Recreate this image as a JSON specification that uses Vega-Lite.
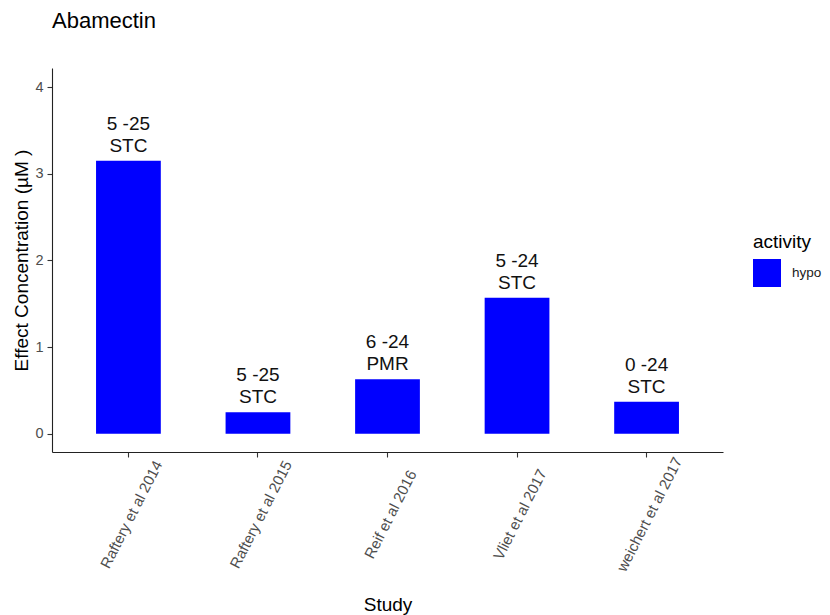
{
  "$schema": "https://vega.github.io/schema/vega-lite/v6.json",
  "width": 671,
  "height": 384,
  "autosize": "none",
  "padding": {"left": 52, "top": 68, "right": 107, "bottom": 163},
  "background": "white",
  "config": {
    "font": "Liberation Sans",
    "view": {"stroke": null},
    "axis": {"grid": false, "domainColor": "#222222", "domainWidth": 1.1, "tickColor": "#333333", "tickWidth": 1.1, "labelColor": "#4d4d4d", "labelFontSize": 14.5, "titleFontSize": 19, "titleFontWeight": "normal", "titleColor": "#000000", "tickSize": 5}
  },
  "title": {"text": "Abamectin", "anchor": "start", "fontSize": 22, "fontWeight": "normal", "color": "#000000", "offset": 18, "baseline": "alphabetic", "frame": "group"},
  "data": {
    "values": [
      {"study": "Raftery et al 2014", "conc": 3.15, "activity": "hypo", "label": "5 -25\nSTC"},
      {"study": "Raftery et al 2015", "conc": 0.25, "activity": "hypo", "label": "5 -25\nSTC"},
      {"study": "Reif et al 2016", "conc": 0.63, "activity": "hypo", "label": "6 -24\nPMR"},
      {"study": "Vliet et al 2017", "conc": 1.57, "activity": "hypo", "label": "5 -24\nSTC"},
      {"study": "weichert et al 2017", "conc": 0.37, "activity": "hypo", "label": "0 -24\nSTC"}
    ]
  },
  "encoding": {
    "x": {"field": "study", "type": "nominal", "sort": null,
      "scale": {"paddingInner": 0.5, "paddingOuter": 0.34},
      "axis": {"title": "Study", "labelAngle": -63, "labelFontSize": 15, "labelAlign": "center", "labelBaseline": "middle", "labelPadding": 57, "labelOffset": 3, "labelOverlap": false, "labelBound": false, "labelFlush": false, "titleY": 158, "titleBaseline": "alphabetic"}},
    "y": {"field": "conc", "type": "quantitative",
      "scale": {"domain": [-0.21, 4.22], "nice": false, "zero": false},
      "axis": {"title": "Effect Concentration (µM )", "values": [0, 1, 2, 3, 4], "labelPadding": 4, "titleX": -31, "titleY": 192, "titleBaseline": "middle", "titleAngle": -90}}
  },
  "layer": [
    {"mark": {"type": "bar"},
      "encoding": {
        "y2": {"datum": 0},
        "color": {"field": "activity", "type": "nominal", "scale": {"range": ["#0000ff"]},
          "legend": {"title": "activity", "orient": "none", "legendX": 701, "legendY": 165, "titleFontSize": 19, "titleFontWeight": "normal", "titleColor": "#000000", "labelFontSize": 13.5, "labelColor": "#1a1a1a", "symbolType": "square", "symbolSize": 784, "symbolStrokeWidth": 0, "labelOffset": 11, "titlePadding": 7}
        }}},
    {"mark": {"type": "text", "lineBreak": "\n", "baseline": "alphabetic", "dy": -31, "fontSize": 19, "color": "#111111", "lineHeight": 22},
      "encoding": {"text": {"field": "label"}}}
  ]
}
